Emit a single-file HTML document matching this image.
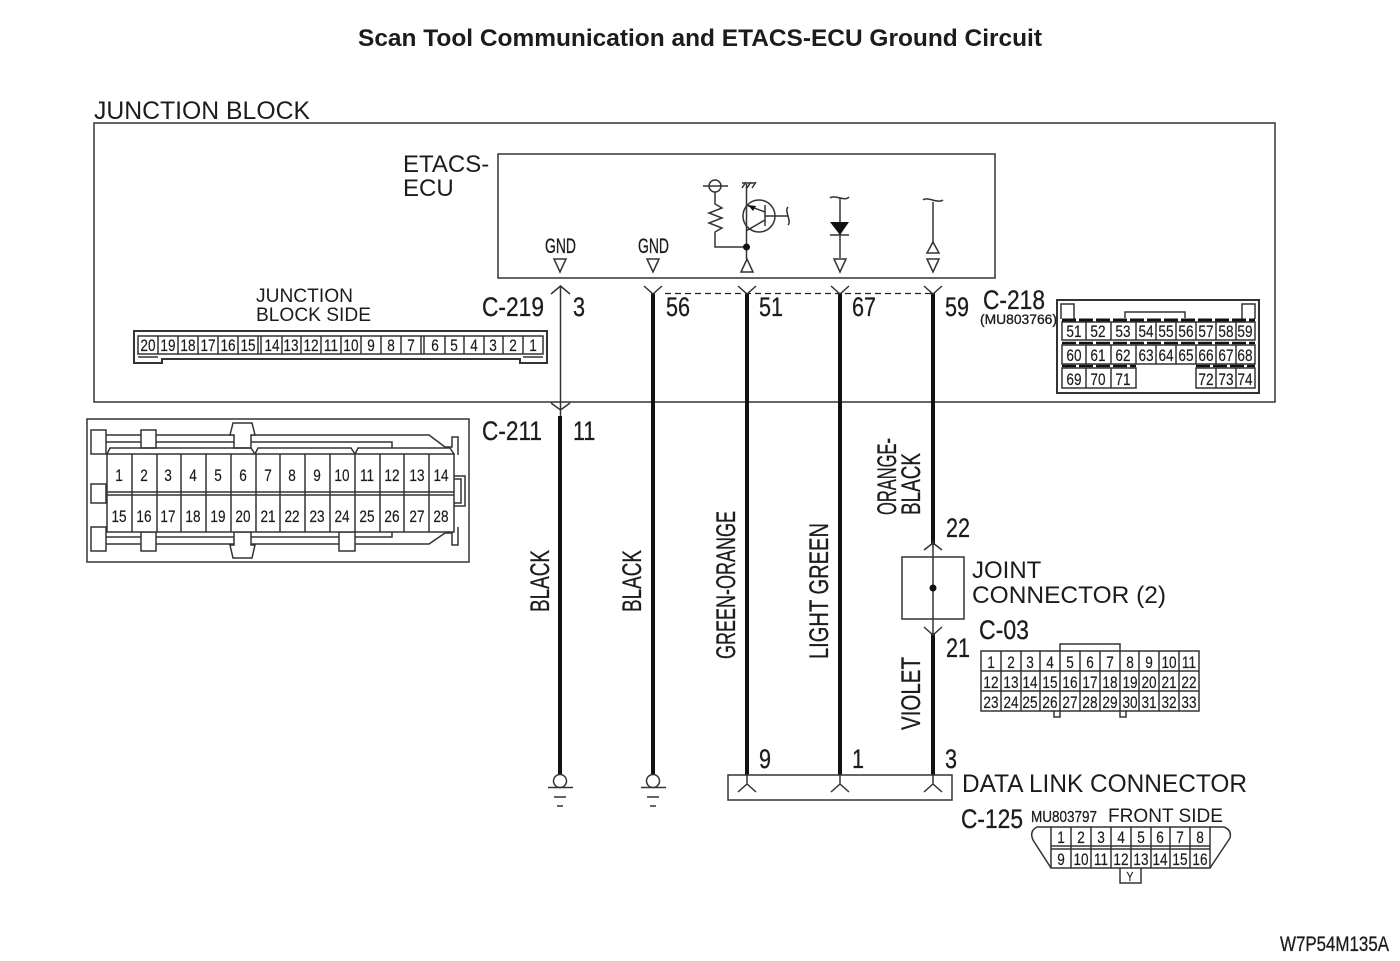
<!DOCTYPE html>
<html><head><meta charset="utf-8"><style>
html,body{margin:0;padding:0;background:#fff}
svg{display:block}
text{fill:#1c1c1c;font-family:"Liberation Sans",sans-serif}
.n{stroke:#1c1c1c;stroke-width:.3}
.p{transform-box:fill-box;transform-origin:0 0;transform:scaleX(.8)}
.g text{text-anchor:middle;font-size:17px;stroke:#1c1c1c;stroke-width:.2;transform-box:fill-box;transform-origin:center;transform:scaleX(.8)}
.l{fill:none;stroke:#333;stroke-width:1.5}
.c{fill:#fff;stroke:#333;stroke-width:1.5}
.w{stroke:#111;stroke-width:4;fill:none}
</style></head><body>
<svg width="1400" height="961" viewBox="0 0 1400 961" xmlns="http://www.w3.org/2000/svg">
<text x="358" y="46" font-size="24" font-weight="bold" textLength="684" lengthAdjust="spacingAndGlyphs">Scan Tool Communication and ETACS-ECU Ground Circuit</text>
<text x="94" y="119" font-size="25" textLength="216" lengthAdjust="spacingAndGlyphs">JUNCTION BLOCK</text>
<rect class="l" x="94" y="123" width="1181" height="279"/>
<text x="403" y="172" font-size="24">ETACS-</text><text x="403" y="196" font-size="24">ECU</text>
<rect class="l" x="498" y="154" width="497" height="124"/>
<text class="n" x="545" y="253" font-size="21" textLength="31" lengthAdjust="spacingAndGlyphs">GND</text>
<text class="n" x="638" y="253" font-size="21" textLength="31" lengthAdjust="spacingAndGlyphs">GND</text>
<path class="l" d="M554 259H566L560 272ZM647 259H659L653 272ZM834 259H846L840 272ZM927 259H939L933 272ZM741 272H753L747 259ZM927 253H939L933 242Z"/>
<!-- ECU internals -->
<circle class="l" cx="715" cy="186" r="6"/>
<path class="l" d="M703 186H728M715 192V204L722 208L709 213L722 218L709 223L722 228L715 232V247H746"/>
<path class="l" d="M746.500 184V259M742 188L746 182M747 188L751 182M752 188L756 182M742 183H755"/>
<circle cx="746.500" cy="247" r="3.500" fill="#111"/>
<circle class="l" cx="759" cy="216" r="16"/>
<path class="l" d="M765 205V226M765 216H788M746 205L765 212M765 220L746 231M788 207C784 211 792 221 788 225"/>
<path d="M748 205L756 206L753 211Z" fill="#111"/>
<path class="l" d="M830 198C834 194 845 202 849 197M840 198V258M830 235H849M933 202V242M923 200C927 196 938 204 943 200"/>
<path d="M830 222H849L840 235Z" fill="#111"/>
<!-- dashed -->
<path d="M665 293.500H933" fill="none" stroke="#222" stroke-width="1.300" stroke-dasharray="6 4"/>
<!-- wires -->
<path class="l" d="M560.500 286V418M551 294L560.500 286L570 294M551 403L560.500 410L570 403"/>
<path class="w" d="M560 416V775M653 293V775M747 293V775M840 293V775M933 293V545M933 633V775"/>
<path class="l" d="M644 286L653 294L662 286M738 286L747 294L756 286M831 286L840 294L849 286M924 286L933 294L942 286"/>
<path class="l" d="M924 550L933 543L942 550M933 540V636M924 627L933 635L942 627"/>
<rect class="l" x="902" y="557" width="62" height="62"/>
<circle cx="933" cy="588" r="3.500" fill="#111"/>
<!-- grounds -->
<circle class="c" cx="560" cy="781" r="6.500"/><circle class="c" cx="653" cy="781" r="6.500"/>
<path class="l" d="M548 787.500H573M554 797H566M557 806H563M641 787.500H666M647 797H659M650 806H656"/>
<!-- DLC -->
<rect class="l" x="728" y="775" width="224" height="25"/>
<path class="l" d="M747 775V784M738 792L747 784L756 792M840 775V784M831 792L840 784L849 792M933 775V784M924 792L933 784L942 792"/>
<!-- labels -->
<g font-size="27">
<text class="n" x="482" y="316" textLength="62" lengthAdjust="spacingAndGlyphs">C-219</text>
<text class="n p" x="573" y="316">3</text><text class="n p" x="666" y="316">56</text><text class="n p" x="759" y="316">51</text><text class="n p" x="852" y="316">67</text><text class="n p" x="945" y="316">59</text>
<text class="n" x="983" y="309" textLength="62" lengthAdjust="spacingAndGlyphs">C-218</text>
<text class="n" x="482" y="440" textLength="60" lengthAdjust="spacingAndGlyphs">C-211</text>
<text class="n p" x="573" y="440">11</text>
<text class="n p" x="946" y="537">22</text><text class="n p" x="946" y="657">21</text>
<text class="n p" x="759" y="768">9</text><text class="n p" x="852" y="768">1</text><text class="n p" x="945" y="768">3</text>
<text class="n" x="979" y="639" textLength="50" lengthAdjust="spacingAndGlyphs">C-03</text>
<text class="n" x="961" y="828" textLength="62" lengthAdjust="spacingAndGlyphs">C-125</text>
<text class="n" transform="translate(549,612) rotate(-90)" textLength="62" lengthAdjust="spacingAndGlyphs">BLACK</text>
<text class="n" transform="translate(641,612) rotate(-90)" textLength="62" lengthAdjust="spacingAndGlyphs">BLACK</text>
<text class="n" transform="translate(735,659) rotate(-90)" textLength="148" lengthAdjust="spacingAndGlyphs">GREEN-ORANGE</text>
<text class="n" transform="translate(828,659) rotate(-90)" textLength="136" lengthAdjust="spacingAndGlyphs">LIGHT GREEN</text>
<text class="n" transform="translate(896,515) rotate(-90)" textLength="77" lengthAdjust="spacingAndGlyphs">ORANGE-</text>
<text class="n" transform="translate(920,515) rotate(-90)" textLength="62" lengthAdjust="spacingAndGlyphs">BLACK</text>
<text class="n" transform="translate(920,730) rotate(-90)" textLength="73" lengthAdjust="spacingAndGlyphs">VIOLET</text>
</g>
<text class="n" x="980" y="324" font-size="14" textLength="77" lengthAdjust="spacingAndGlyphs">(MU803766)</text>
<text x="256" y="302" font-size="19" textLength="97" lengthAdjust="spacingAndGlyphs">JUNCTION</text>
<text x="256" y="321" font-size="19" textLength="115" lengthAdjust="spacingAndGlyphs">BLOCK SIDE</text>
<text x="972" y="578" font-size="24">JOINT</text>
<text x="972" y="603" font-size="24" textLength="194" lengthAdjust="spacingAndGlyphs">CONNECTOR (2)</text>
<text x="962" y="792" font-size="25" textLength="285" lengthAdjust="spacingAndGlyphs">DATA LINK CONNECTOR</text>
<text class="n" x="1031" y="822" font-size="16" textLength="66" lengthAdjust="spacingAndGlyphs">MU803797</text>
<text x="1108" y="822" font-size="19" textLength="115" lengthAdjust="spacingAndGlyphs">FRONT SIDE</text>
<text class="n" x="1280" y="951" font-size="21" textLength="109" lengthAdjust="spacingAndGlyphs">W7P54M135A</text>

<!-- Junction block side connector -->
<path class="l" style="stroke-width:2" d="M134 331H547V363H520V359H162V363H134Z"/>
<path class="l" d="M138 336H543V354H138ZM158 336V354M178 336V354M198 336V354M218 336V354M238 336V354M258 336V354M261 336V354M282 336V354M301 336V354M321 336V354M341 336V354M361 336V354M381 336V354M401 336V354M421 336V354M424 336V354M445 336V354M464 336V354M484 336V354M503 336V354M523 336V354M138 357H158M523 357H543"/>
<g class="g">
<text x="148" y="351">20</text><text x="168" y="351">19</text><text x="188" y="351">18</text><text x="208" y="351">17</text><text x="228" y="351">16</text><text x="248" y="351">15</text><text x="272" y="351">14</text><text x="291" y="351">13</text><text x="311" y="351">12</text><text x="331" y="351">11</text><text x="351" y="351">10</text><text x="371" y="351">9</text><text x="391" y="351">8</text><text x="411" y="351">7</text><text x="435" y="351">6</text><text x="454" y="351">5</text><text x="474" y="351">4</text><text x="493" y="351">3</text><text x="513" y="351">2</text><text x="533" y="351">1</text>
</g>

<!-- C-218 connector -->
<rect class="l" style="stroke-width:2" x="1057" y="300" width="202" height="93"/>
<path class="l" d="M1061 319V304H1074V319M1242 319V304H1255V319M1125 318V312H1185V318"/>
<path d="M1062 320H1255" stroke="#111" stroke-width="3" stroke-dasharray="14 3" fill="none"/>
<path d="M1062 343H1255M1062 366H1136M1196 366H1255" stroke="#111" stroke-width="2.500" stroke-dasharray="14 3" fill="none"/>
<path class="l" d="M1062 322H1255V340H1062ZM1062 345H1255V364H1062ZM1062 368H1136V388H1062ZM1196 368H1255V388H1196Z"/>
<path class="l" d="M1086 322V340M1111 322V340M1136 322V340M1156 322V340M1176 322V340M1196 322V340M1216 322V340M1236 322V340M1086 345V364M1111 345V364M1136 345V364M1156 345V364M1176 345V364M1196 345V364M1216 345V364M1236 345V364M1086 368V388M1111 368V388M1216 368V388M1236 368V388"/>
<g class="g">
<text x="1074" y="337">51</text><text x="1098" y="337">52</text><text x="1123" y="337">53</text><text x="1146" y="337">54</text><text x="1166" y="337">55</text><text x="1186" y="337">56</text><text x="1206" y="337">57</text><text x="1226" y="337">58</text><text x="1245" y="337">59</text>
<text x="1074" y="361">60</text><text x="1098" y="361">61</text><text x="1123" y="361">62</text><text x="1146" y="361">63</text><text x="1166" y="361">64</text><text x="1186" y="361">65</text><text x="1206" y="361">66</text><text x="1226" y="361">67</text><text x="1245" y="361">68</text>
<text x="1074" y="385">69</text><text x="1098" y="385">70</text><text x="1123" y="385">71</text><text x="1206" y="385">72</text><text x="1226" y="385">73</text><text x="1245" y="385">74</text>
</g>

<!-- C-211 connector -->
<rect class="l" x="87" y="419" width="382" height="143"/>
<path class="l" d="M106 435H429L445 447M106 442H392V448M106 537H392V532M106 544H429L445 533"/>
<path class="c" d="M234 448V435H230L233 423H252L255 435H251V448ZM234 532V545H230L233 558H252L255 545H251V532Z"/>
<rect class="c" x="91" y="430" width="15" height="24"/><rect class="c" x="91" y="484" width="15" height="19"/><rect class="c" x="91" y="527" width="15" height="24"/>
<rect class="c" x="141" y="430" width="15" height="18"/><rect class="c" x="141" y="532" width="15" height="19"/><rect class="c" x="339" y="532" width="16" height="19"/>
<path class="l" d="M445 447H452V437H458V455M445 533H452V545H458V527M454 476H465V506H454M454 479H461V503H454"/>
<path class="l" d="M107 454L110 448H251L255 454L258 448H351L355 454L358 448H450L454 454"/>
<path class="c" d="M107 454H454V532H107Z"/>
<path class="l" d="M107 492H454M107 495H454M132 454V532M157 454V532M181 454V532M206 454V532M231 454V532M256 454V532M280 454V532M305 454V532M330 454V532M355 454V532M380 454V532M404 454V532M429 454V532"/>
<g class="g">
<text x="119" y="481">1</text><text x="144" y="481">2</text><text x="168" y="481">3</text><text x="193" y="481">4</text><text x="218" y="481">5</text><text x="243" y="481">6</text><text x="268" y="481">7</text><text x="292" y="481">8</text><text x="317" y="481">9</text><text x="342" y="481">10</text><text x="367" y="481">11</text><text x="392" y="481">12</text><text x="417" y="481">13</text><text x="441" y="481">14</text>
<text x="119" y="522">15</text><text x="144" y="522">16</text><text x="168" y="522">17</text><text x="193" y="522">18</text><text x="218" y="522">19</text><text x="243" y="522">20</text><text x="268" y="522">21</text><text x="292" y="522">22</text><text x="317" y="522">23</text><text x="342" y="522">24</text><text x="367" y="522">25</text><text x="392" y="522">26</text><text x="417" y="522">27</text><text x="441" y="522">28</text>
</g>

<!-- C-03 connector -->
<path class="l" d="M1060 651V644H1120V651M1054 711V717H1060V711M1120 711V717H1126V711"/>
<path class="l" d="M981 651H1199V711H981ZM981 671H1199M981 691H1199M1001 651V711M1021 651V711M1040 651V711M1060 651V711M1080 651V711M1100 651V711M1120 651V711M1139 651V711M1159 651V711M1179 651V711"/>
<g class="g">
<text x="991" y="668">1</text><text x="1011" y="668">2</text><text x="1030" y="668">3</text><text x="1050" y="668">4</text><text x="1070" y="668">5</text><text x="1090" y="668">6</text><text x="1110" y="668">7</text><text x="1130" y="668">8</text><text x="1149" y="668">9</text><text x="1169" y="668">10</text><text x="1189" y="668">11</text>
<text x="991" y="688">12</text><text x="1011" y="688">13</text><text x="1030" y="688">14</text><text x="1050" y="688">15</text><text x="1070" y="688">16</text><text x="1090" y="688">17</text><text x="1110" y="688">18</text><text x="1130" y="688">19</text><text x="1149" y="688">20</text><text x="1169" y="688">21</text><text x="1189" y="688">22</text>
<text x="991" y="708">23</text><text x="1011" y="708">24</text><text x="1030" y="708">25</text><text x="1050" y="708">26</text><text x="1070" y="708">27</text><text x="1090" y="708">28</text><text x="1110" y="708">29</text><text x="1130" y="708">30</text><text x="1149" y="708">31</text><text x="1169" y="708">32</text><text x="1189" y="708">33</text>
</g>

<!-- C-125 connector -->
<path class="l" d="M1051 827H1210L1224 827Q1232 830 1230 838L1210 868H1051L1033 840Q1029 831 1037 827ZM1120 868V883H1141V868"/>
<path class="l" d="M1051 827V868M1210 827V868M1051 846H1210M1051 849H1210M1071 827V868M1091 827V868M1111 827V868M1131 827V868M1151 827V868M1170 827V868M1190 827V868"/>
<g class="g">
<text x="1061" y="843">1</text><text x="1081" y="843">2</text><text x="1101" y="843">3</text><text x="1121" y="843">4</text><text x="1141" y="843">5</text><text x="1160" y="843">6</text><text x="1180" y="843">7</text><text x="1200" y="843">8</text>
<text x="1061" y="865">9</text><text x="1081" y="865">10</text><text x="1101" y="865">11</text><text x="1121" y="865">12</text><text x="1141" y="865">13</text><text x="1160" y="865">14</text><text x="1180" y="865">15</text><text x="1200" y="865">16</text>
<text x="1130" y="881" style="font-size:13px">Y</text>
</g>
</svg>
</body></html>
